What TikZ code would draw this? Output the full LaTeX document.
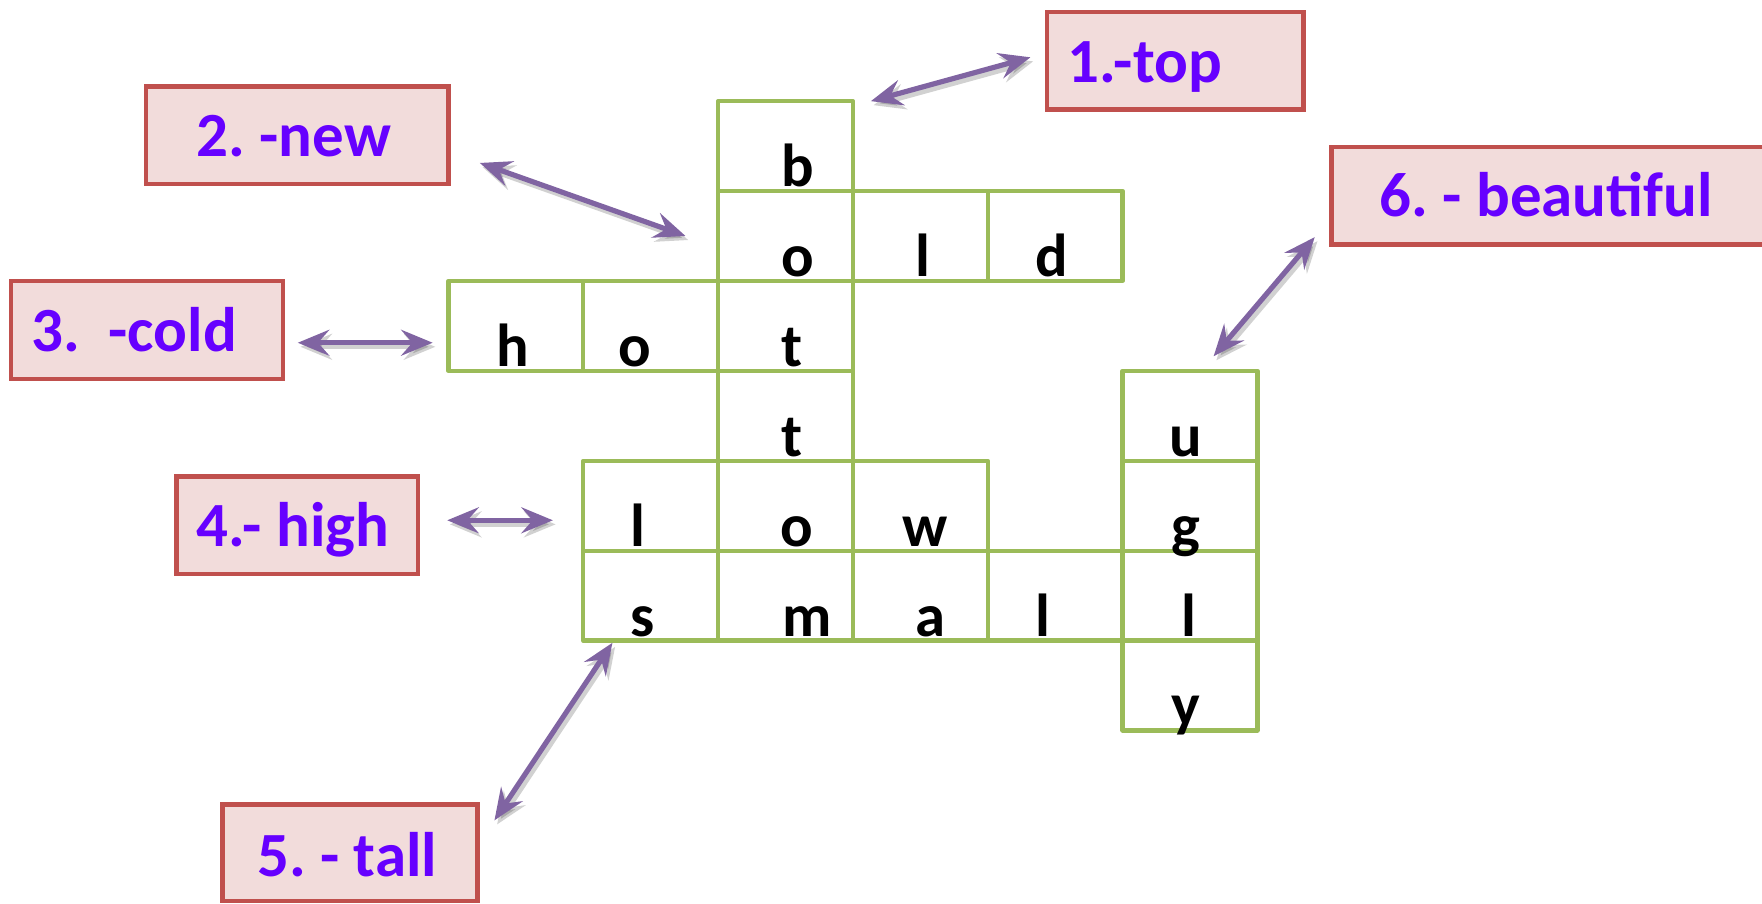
\documentclass[tikz,border=0pt]{standalone}
\usepackage{fontspec}
\setmainfont{Carlito}
\usetikzlibrary{arrows.meta}
\definecolor{lblpurple}{RGB}{102,0,255}
\definecolor{arrpurple}{RGB}{128,100,162}
\definecolor{boxfill}{RGB}{242,220,219}
\definecolor{boxdraw}{RGB}{192,80,77}
\definecolor{gridgreen}{RGB}{155,187,89}
\frenchspacing
\begin{document}
\begin{tikzpicture}[x=0.5pt,y=-0.5pt,
  >={Stealth[length=14pt,width=11.5pt,inset=5pt]},
  cell/.style={draw=gridgreen, line width=1.9pt, minimum width=60pt, minimum height=40pt, inner sep=0pt, line join=round},
  letter/.style={anchor=base, font=\bfseries\fontsize{27}{30}\selectfont, text=black, inner sep=0pt},
  lbl/.style={draw=boxdraw, fill=boxfill, line width=1.9pt, text=lblpurple, font=\bfseries\fontsize{28}{32}\selectfont\frenchspacing, inner ysep=0pt, text height=19pt, text depth=0pt, minimum height=43.5pt},
  dbl/.style={draw=arrpurple, line width=2.3pt, <->},
  dblshadow/.style={draw=black, opacity=0.18, line width=2.3pt, <->},
]
\clip (0,0) rectangle (1568,804);
\fill[white] (0,0) rectangle (1568,804);

% grid cells
\foreach \n/\x/\y in {cB/699/130, cO1/699/210, cL1/819/210, cD/939/210,
  cH/459/290, cO2/579/290, cT1/699/290, cT2/699/370,
  cL2/579/450, cO3/699/450, cW/819/450,
  cS/579/530, cM/699/530, cA/819/530, cL3/939/530, cL4/1059/530,
  cU/1059/370, cG/1059/450, cY/1059/610}
  \node[cell] (\n) at (\x,\y) {};

% letters
\foreach \n/\t/\x/\y in {lB/b/710/166, lO1/o/710/246, lL1/l/821/246, lD/d/936/246,
  lH/h/456/326, lO2/o/565/326, lT1/t/705/326, lT2/t/705/406,
  lU/u/1055/406, lL2/l/568/486, lO3/o/709/486, lW/w/823/486, lG/g/1055/486,
  lS/s/572/566, lM/m/718/566, lA/a/828/566, lL3/l/928/566, lL4/l/1058/566,
  lY/y/1055/646}
  \node[letter] (\n) at (\x,\y) {\t};

% label boxes
\node[lbl, inner xsep=9pt] (b1) at (1046,54) {\makebox[96pt][l]{1.-top}};
\node[lbl, inner xsep=22.5pt] (b2) at (264.5,120.5) {\makebox[89.5pt][l]{2. -new}};
\node[lbl, inner xsep=9pt] (b3) at (131,293.5) {\makebox[103pt][l]{3.~~-cold}};
\node[lbl, inner xsep=9pt] (b4) at (264.5,467.5) {\makebox[89.5pt][l]{4.- high}};
\node[lbl, inner xsep=15.5pt, minimum height=43pt] (b5) at (311.5,759) {\makebox[82.5pt][l]{\raisebox{-1pt}{5. - tall}}};
\node[lbl, inner xsep=21.5pt] (b6) at (1402.5,174) {\makebox[174.5pt][l]{6. - beautiful}};

% arrow end points
\coordinate (p1a) at (775,90);   \coordinate (p1b) at (917,51);
\coordinate (p2a) at (427,145);  \coordinate (p2b) at (610,210);
\coordinate (p3a) at (265,305);  \coordinate (p3b) at (385,305);
\coordinate (p4a) at (398,463);  \coordinate (p4b) at (492,463);
\coordinate (p5a) at (545,572);  \coordinate (p5b) at (440,730);
\coordinate (p6a) at (1170,211); \coordinate (p6b) at (1080,317);

\foreach \i in {1,...,6}{
  \draw[dblshadow, transform canvas={shift={(1.2pt,-1.8pt)}}] (p\i a) -- (p\i b);
  \draw[dbl] (p\i a) -- (p\i b);
}
\end{tikzpicture}
\end{document}
